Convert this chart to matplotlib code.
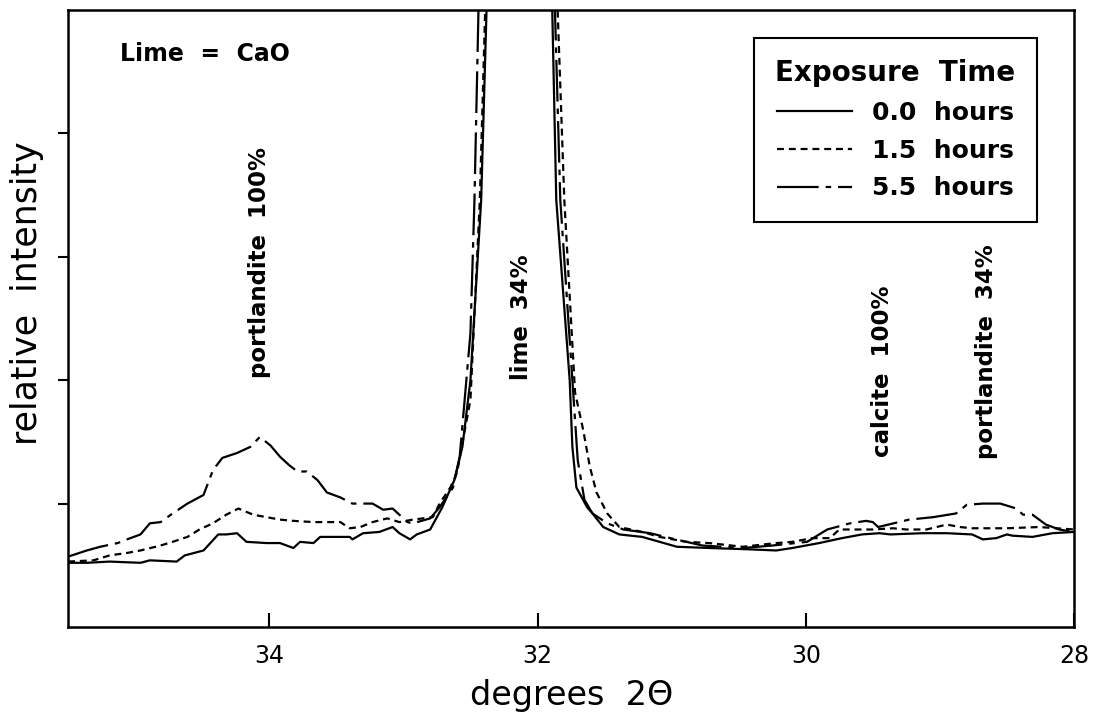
import matplotlib
matplotlib.use('Agg')
import matplotlib.pyplot as plt

# --- data (degrees 2-theta, relative intensity) ---
# 0.0 hours
x_0h = [35.50, 35.36, 35.19, 34.96, 34.89, 34.69, 34.63, 34.49, 34.38, 34.32,
        34.24, 34.17, 34.02, 33.92, 33.82, 33.77, 33.67, 33.62, 33.53, 33.40,
        33.38, 33.30, 33.18, 33.08, 33.03, 32.95, 32.90, 32.80, 32.71, 32.62,
        32.56, 32.50, 32.42, 32.38, 32.36,
        31.91, 31.89, 31.86, 31.76, 31.74, 31.71, 31.63, 31.59, 31.51, 31.39,
        31.22, 30.96, 30.72, 30.44, 30.22, 30.10, 29.90, 29.73, 29.58, 29.45,
        29.37, 29.13, 28.95, 28.76, 28.68, 28.58, 28.50, 28.46, 28.31, 28.16,
        28.00]
y_0h = [0.52, 0.52, 0.53, 0.52, 0.54, 0.53, 0.58, 0.62, 0.75, 0.75,
        0.76, 0.69, 0.68, 0.68, 0.64, 0.69, 0.68, 0.73, 0.73, 0.73,
        0.71, 0.76, 0.77, 0.81, 0.76, 0.71, 0.75, 0.79, 0.97, 1.19,
        1.46, 2.00, 3.46, 5.00, 5.32,
        5.32, 5.00, 3.46, 2.00, 1.46, 1.13, 0.97, 0.92, 0.81, 0.75,
        0.73, 0.65, 0.64, 0.63, 0.62, 0.64, 0.68, 0.72, 0.75, 0.76,
        0.75, 0.76, 0.76, 0.75, 0.71, 0.72, 0.75, 0.74, 0.73, 0.76,
        0.77]

# 1.5 hours
x_15h = [35.50, 35.31, 35.19, 35.06, 34.96, 34.81, 34.72, 34.61, 34.52, 34.42,
         34.32, 34.23, 34.12, 34.02, 33.92, 33.82, 33.67, 33.47, 33.40, 33.32,
         33.23, 33.12, 33.03, 32.93, 32.78, 32.73, 32.65, 32.60, 32.56, 32.50,
         32.43, 32.39, 32.37,
         31.90, 31.85, 31.80, 31.72, 31.66, 31.61, 31.56, 31.48, 31.39, 31.22,
         31.09, 30.89, 30.72, 30.47, 30.22, 30.10, 29.95, 29.82, 29.75, 29.50,
         29.35, 29.25, 29.10, 28.95, 28.85, 28.76, 28.50, 28.26, 28.13, 28.00]
y_15h = [0.53, 0.54, 0.58, 0.60, 0.62, 0.66, 0.69, 0.73, 0.79, 0.84,
         0.91, 0.96, 0.91, 0.89, 0.87, 0.86, 0.85, 0.85, 0.80, 0.81,
         0.85, 0.88, 0.85, 0.87, 0.89, 1.00, 1.13, 1.25, 1.49, 1.84,
         3.46, 5.00, 5.32,
         5.32, 5.00, 3.46, 1.90, 1.60, 1.30, 1.09, 0.92, 0.81, 0.77,
         0.73, 0.69, 0.68, 0.65, 0.68, 0.69, 0.72, 0.72, 0.79, 0.79,
         0.80, 0.79, 0.79, 0.83, 0.81, 0.80, 0.80, 0.81, 0.80, 0.79]

# 5.5 hours
x_55h = [35.50, 35.36, 35.26, 35.13, 35.06, 34.96, 34.89, 34.81, 34.72, 34.61,
         34.49, 34.42, 34.35, 34.24, 34.14, 34.07, 33.99, 33.92, 33.85, 33.79,
         33.72, 33.64, 33.57, 33.47, 33.38, 33.30, 33.23, 33.15, 33.08, 32.97,
         32.93, 32.80, 32.73, 32.63, 32.58, 32.50, 32.47, 32.44, 32.43,
         31.92, 31.87, 31.83, 31.74, 31.70, 31.65, 31.59, 31.48, 31.36, 31.16,
         31.01, 30.77, 30.47, 30.25, 29.99, 29.90, 29.84, 29.67, 29.55, 29.50,
         29.46, 29.23, 29.05, 28.88, 28.80, 28.68, 28.55, 28.43, 28.38, 28.31,
         28.21, 28.11, 28.00]
y_55h = [0.57, 0.62, 0.65, 0.68, 0.71, 0.75, 0.84, 0.85, 0.92, 1.00,
         1.07, 1.27, 1.37, 1.41, 1.46, 1.54, 1.47, 1.38, 1.31, 1.26,
         1.26, 1.19, 1.09, 1.05, 1.00, 1.00, 1.00, 0.95, 0.96, 0.85,
         0.84, 0.88, 0.97, 1.13, 1.38, 2.38, 3.46, 5.00, 5.32,
         5.32, 5.00, 3.46, 2.00, 1.35, 1.03, 0.92, 0.84, 0.79, 0.76,
         0.72, 0.66, 0.64, 0.66, 0.69, 0.75, 0.79, 0.84, 0.86, 0.85,
         0.81, 0.87, 0.89, 0.92, 0.99, 1.00, 1.00, 0.96, 0.91, 0.91,
         0.83, 0.79, 0.77]

etiquetas = ['0.0  hours', '1.5  hours', '5.5  hours']
marcas_x = [34, 32, 30, 28]
marcas_y = [1, 2, 3, 4]

plt.rcParams['font.family'] = 'DejaVu Sans'
plt.rcParams['lines.scale_dashes'] = False

fig = plt.figure(figsize=(11.01, 7.2), dpi=100)
ax = fig.add_axes([0.0618, 0.1292, 0.9137, 0.8569])

ax.plot(x_0h, y_0h, color='black', lw=1.6, label=etiquetas[0])
ax.plot(x_15h, y_15h, color='black', lw=1.6, dashes=(5, 3.5), label=etiquetas[1])
ax.plot(x_55h, y_55h, color='black', lw=1.6, dashes=(30, 5, 4, 5), label=etiquetas[2])

ax.set_xlim(35.5, 28)
ax.set_ylim(0, 5)
ax.set_xticks(marcas_x)
ax.set_yticks(marcas_y)
ax.set_yticklabels([])
ax.tick_params(axis='x', direction='in', length=10, width=1.5, labelsize=17, pad=12)
ax.tick_params(axis='y', direction='out', length=7, width=1.5)
for lado in ax.spines.values():
    lado.set_linewidth(1.8)

# legend box
leg = ax.legend(title='Exposure  Time', loc='upper right', bbox_to_anchor=(0.963, 0.955),
                frameon=True, fancybox=False, edgecolor='black', framealpha=1,
                handlelength=3.0, handletextpad=0.8, labelspacing=0.55, borderpad=0.85,
                borderaxespad=0,
                prop={'size': 18, 'weight': 'bold'},
                title_fontproperties={'size': 20, 'weight': 'bold'})
leg.get_frame().set_linewidth(1.5)

# annotations
ax.text(35.11, 4.64, 'Lime  =  CaO', fontsize=17, fontweight='bold', ha='left', va='center')
ax.text(34.07, 2.95, 'portlandite  100%', fontsize=16.5, fontweight='bold', rotation=90, ha='center', va='center')
ax.text(32.12, 2.51, 'lime  34%', fontsize=16.5, fontweight='bold', rotation=90, ha='center', va='center')
ax.text(29.43, 2.07, 'calcite  100%', fontsize=16.5, fontweight='bold', rotation=90, ha='center', va='center')
ax.text(28.65, 2.23, 'portlandite  34%', fontsize=16.5, fontweight='bold', rotation=90, ha='center', va='center')

fig.text(27 / 1101, 1 - 293 / 720, 'relative  intensity', fontsize=25, rotation=90, ha='center', va='center')
fig.text(572 / 1101, 1 - 695 / 720, 'degrees  2Θ', fontsize=24, ha='center', va='center')

plt.savefig('out.png', dpi=100)
